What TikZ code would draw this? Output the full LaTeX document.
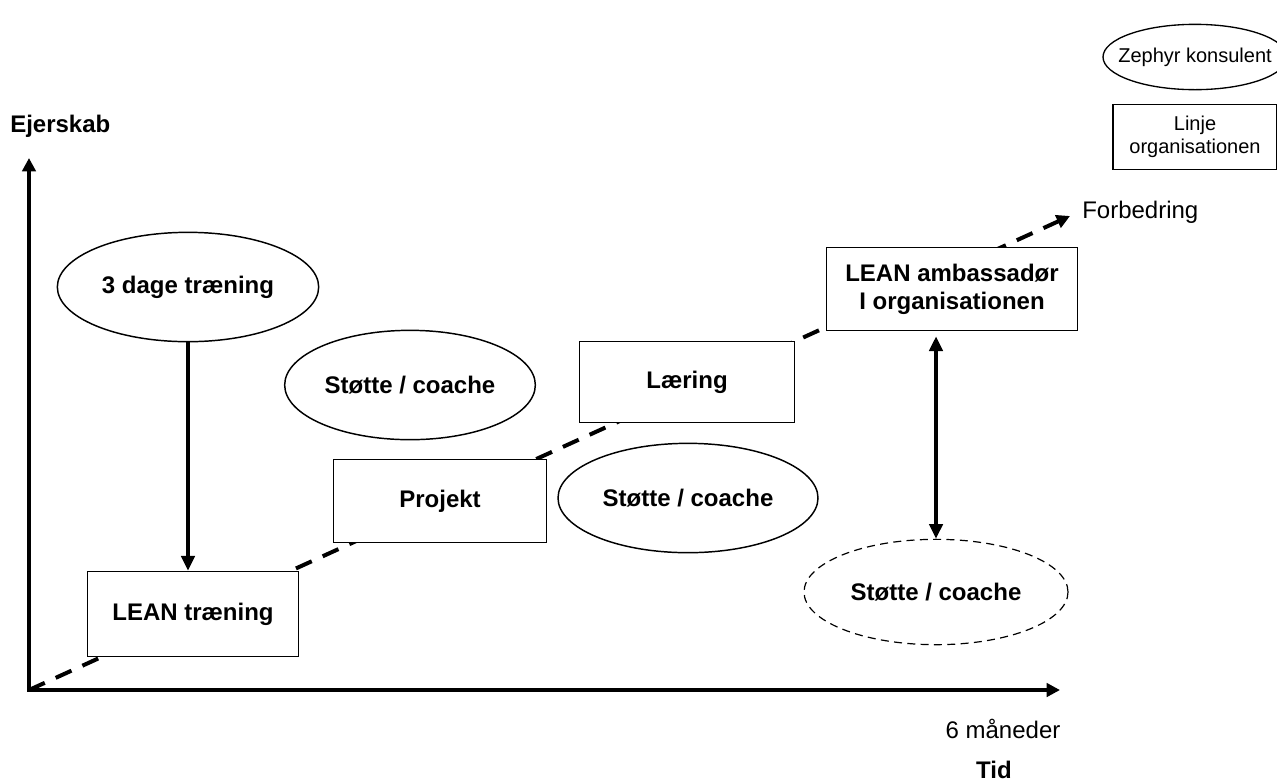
\documentclass[tikz,border=0pt]{standalone}
\usepackage{fontspec}
\setmainfont{Liberation Sans}
\usetikzlibrary{shapes.geometric,arrows.meta}

\begin{document}
\begin{tikzpicture}[x=0.75pt,y=-0.75pt,
  boks/.style={draw, line width=1.1pt, fill=white, align=center, inner sep=0pt,
    font=\bfseries\fontsize{18}{21}\selectfont},
  oval/.style={ellipse, draw, line width=1.1pt, fill=white, inner sep=0pt,
    font=\bfseries\fontsize{18}{21}\selectfont},
  lille/.style={line width=1pt, align=center, inner sep=0pt,
    font=\fontsize{15}{17.5}\selectfont},
  tekst/.style={inner sep=0pt, font=\fontsize{18}{21}\selectfont},
  pil/.style={line width=2.6pt, -{Triangle[length=11pt,width=10pt]}}
]
  \useasboundingbox (0,0) rectangle (1277,783);

  % Akser
  \coordinate (O) at (29,690);
  \coordinate (ytop) at (29,158);
  \coordinate (xend) at (1060,690);
  \coordinate (frem) at (1070,216);

  % Forbedringslinje
  \draw[line width=3pt, dash pattern=on 13pt off 9pt,
    -{Triangle[length=10pt,width=10pt]}] (O) -- (frem);

  \draw[line width=3pt, line join=miter,
    {Triangle[length=10pt,width=10pt]}-{Triangle[length=10pt,width=10pt]}]
    (ytop) -- (O) -- (xend);

  % Tekster ved akserne
  \node[tekst, anchor=west, font=\bfseries\fontsize{18}{21}\selectfont] (ejer) at (10,126) {Ejerskab};
  \node[tekst] (mdr) at (1003,729) {6 måneder};
  \node[tekst, font=\bfseries\fontsize{18}{21}\selectfont] (tid) at (994,770) {Tid};
  \node[tekst, anchor=west] (forb) at (1082,212) {Forbedring};

  % Forklaring
  \node[lille, ellipse, draw, minimum width=138pt, minimum height=49pt] (zephyr) at (1195,57) {\makebox[0pt]{Zephyr konsulent}};
  \node[lille, draw, minimum width=123pt, minimum height=49pt] (linje) at (1195,137) {Linje\\organisationen};

  % Forløbet
  \node[oval, minimum width=196pt, minimum height=82pt] (dage) at (188,287) {3 dage træning};
  \node[boks, minimum width=158pt, minimum height=64pt] (lean) at (193,614) {LEAN træning};
  \node[oval, minimum width=188pt, minimum height=82pt] (stotteA) at (410,385) {Støtte / coache};
  \node[boks, minimum width=160pt, minimum height=62pt] (projekt) at (440,501) {Projekt};
  \node[oval, minimum width=195pt, minimum height=82pt] (stotteB) at (688,498) {Støtte / coache};
  \node[boks, minimum width=161pt, minimum height=61pt] (laering) at (687,382) {Læring};
  \node[boks, minimum width=188pt, minimum height=62pt] (amb) at (952,289) {LEAN ambassadør\\I organisationen};
  \node[oval, dashed, line width=0.9pt, dash pattern=on 6pt off 4pt,
    minimum width=198pt, minimum height=79pt] (stotteC) at (936,592) {Støtte / coache};

  % Pile
  \draw[pil] (dage.south) -- (dage.south |- lean.north);
  \draw[pil, {Triangle[length=11pt,width=10pt]}-{Triangle[length=11pt,width=10pt]}, shorten <=4pt]
    (amb.south -| stotteC.north) -- (stotteC.north);
\end{tikzpicture}
\end{document}
